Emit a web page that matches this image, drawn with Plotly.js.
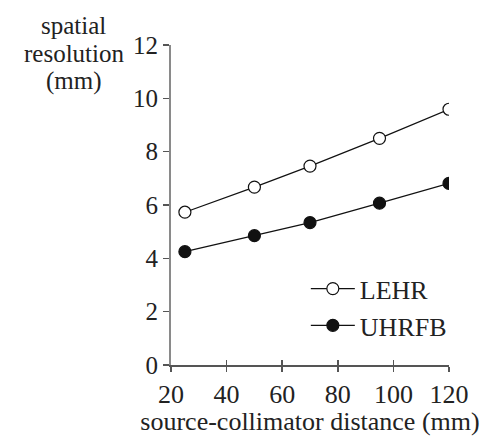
<!DOCTYPE html>
<html>
<head>
<meta charset="utf-8">
<script src="https://cdn.plot.ly/plotly-3.0.1.min.js"></script>
<style>html,body{margin:0;padding:0;background:#fff;}#chart{width:485px;height:436px;}</style>
</head>
<body>
<div id="chart"></div>
<script>
const distance = [25, 50, 70, 95, 120];
const lehr = [5.73, 6.67, 7.46, 8.5, 9.59];
const uhrfb = [4.25, 4.85, 5.34, 6.07, 6.81];
const xTicks = [20, 40, 60, 80, 100, 120];
const yTicks = [0, 2, 4, 6, 8, 10, 12];
const seriesNames = ['LEHR', 'UHRFB'];
const yTitleLines = ['spatial', 'resolution', '(mm)'];
const xTitle = 'source-collimator distance (mm)';

const FONT = '"Liberation Serif", "Times New Roman", serif';
const INK = '#222';

const traces = [
  {
    x: distance, y: lehr, name: seriesNames[0], type: 'scatter', mode: 'lines+markers',
    line: {color: '#111', width: 1.2},
    marker: {symbol: 'circle', size: 12, color: '#fff', line: {color: '#111', width: 1.2}}
  },
  {
    x: distance, y: uhrfb, name: seriesNames[1], type: 'scatter', mode: 'lines+markers',
    line: {color: '#111', width: 1.2},
    marker: {symbol: 'circle', size: 12, color: '#111', line: {color: '#111', width: 1.2}}
  },
  {
    x: [xTicks[0]], y: [yTicks[0]], xaxis: 'x2', type: 'scatter', mode: 'markers',
    marker: {opacity: 0}, showlegend: false, hoverinfo: 'skip'
  }
];

const titleY = [1.0625, 0.975, 0.886];

const layout = {
  width: 485, height: 436,
  margin: {l: 171, r: 36, t: 45, b: 71},
  paper_bgcolor: '#fff', plot_bgcolor: '#fff',
  font: {family: FONT, size: 26, color: INK},
  showlegend: true,
  legend: {
    x: 0.485, y: 0.312, xanchor: 'left', yanchor: 'top',
    itemwidth: 44,
    bgcolor: 'rgba(0,0,0,0)', font: {family: FONT, size: 26, color: INK},
    tracegroupgap: 0
  },
  xaxis: {
    range: [20, 120], tickvals: xTicks, ticktext: xTicks.map(String),
    showgrid: false, zeroline: false, showline: true, linecolor: '#555', linewidth: 1.5,
    ticks: 'outside', ticklen: 5, tickwidth: 1.5, tickcolor: '#555',
    tickfont: {family: FONT, size: 26, color: INK},
    title: {text: xTitle, font: {family: FONT, size: 26, color: INK}, standoff: 6}
  },
  xaxis2: {
    overlaying: 'x', matches: 'x', range: [20, 120], tickvals: xTicks, showticklabels: false,
    showgrid: false, zeroline: false, showline: false,
    ticks: 'inside', ticklen: 5, tickwidth: 1.5, tickcolor: '#555', side: 'bottom'
  },
  yaxis: {
    range: [0, 12], tickvals: yTicks, ticktext: yTicks.map(String),
    showgrid: false, zeroline: false, showline: true, linecolor: '#8a8a8a', linewidth: 2,
    ticks: 'outside', ticklen: 6, tickwidth: 1.5, tickcolor: '#555',
    tickfont: {family: FONT, size: 25, color: INK}
  },
  annotations: yTitleLines.map((t, i) => ({
    text: t, xref: 'paper', yref: 'paper',
    x: -0.35, y: titleY[i], xanchor: 'center', yanchor: 'middle', showarrow: false,
    font: {family: FONT, size: 25, color: INK}
  }))
};

Plotly.newPlot('chart', traces, layout, {displayModeBar: false, staticPlot: true});
</script>
</body>
</html>
